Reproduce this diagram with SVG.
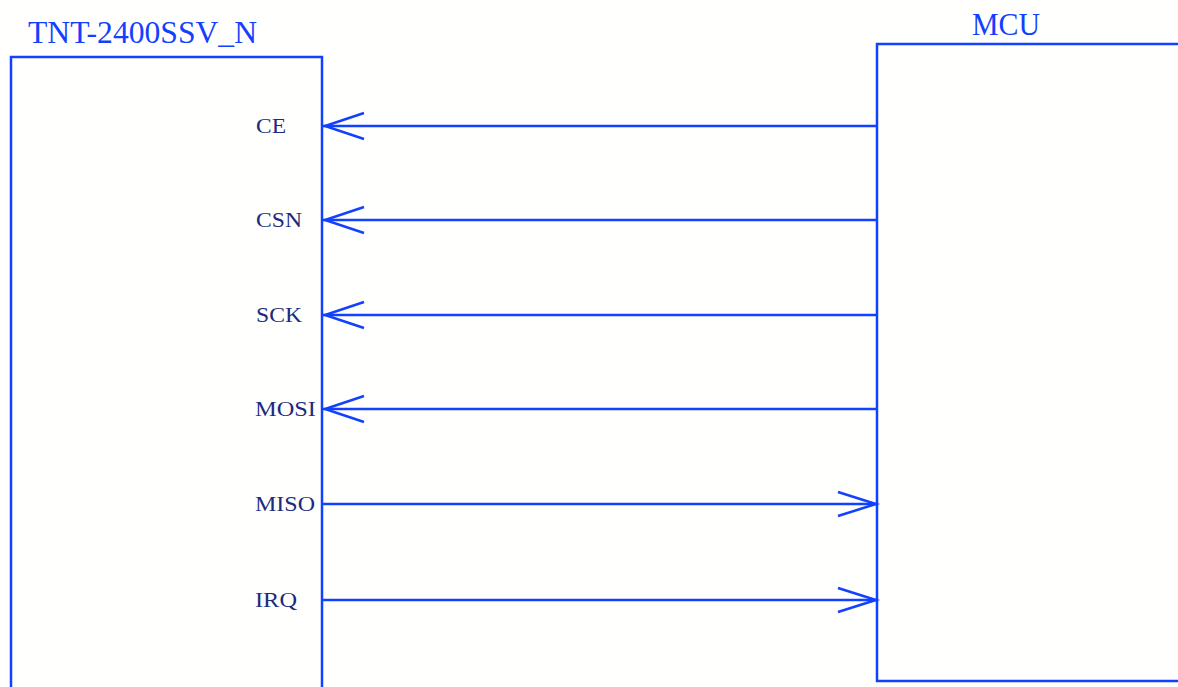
<svg xmlns="http://www.w3.org/2000/svg" width="1178" height="687" viewBox="0 0 1178 687">
<style>
.box{fill:#fffffd;stroke:#1240ff;stroke-width:2.5}
.wire{stroke:#1240ff;stroke-width:2.5;fill:none}
.title{font-family:"Liberation Serif",serif;font-size:32px;fill:#1240ff}
.pin{font-family:"Liberation Serif",serif;font-size:21px;fill:#1c2a80}
</style>
<rect width="1178" height="687" fill="#fffffd"/>
<g id="tnt">
<path class="box" d="M11,690 V57 H322 V690"/>
<text class="title" x="28" y="43" textLength="229" lengthAdjust="spacingAndGlyphs">TNT-2400SSV_N</text>
<text class="pin" x="256" y="133" textLength="30" lengthAdjust="spacingAndGlyphs">CE</text>
<text class="pin" x="256" y="227" textLength="46" lengthAdjust="spacingAndGlyphs">CSN</text>
<text class="pin" x="256" y="322" textLength="46" lengthAdjust="spacingAndGlyphs">SCK</text>
<text class="pin" x="255" y="416" textLength="61" lengthAdjust="spacingAndGlyphs">MOSI</text>
<text class="pin" x="255" y="511" textLength="60" lengthAdjust="spacingAndGlyphs">MISO</text>
<text class="pin" x="255" y="607" textLength="42" lengthAdjust="spacingAndGlyphs">IRQ</text>
</g>
<g id="mcu">
<path class="box" d="M1180,44 H877 V681 H1180"/>
<text class="title" x="972" y="35" textLength="68" lengthAdjust="spacingAndGlyphs">MCU</text>
</g>
<g id="connectors">
<line class="wire" x1="323" y1="126" x2="877" y2="126"/>
<path class="wire" d="M364,113 L325,126 L364,139"/>
<line class="wire" x1="323" y1="220" x2="877" y2="220"/>
<path class="wire" d="M364,207 L325,220 L364,233"/>
<line class="wire" x1="323" y1="315" x2="877" y2="315"/>
<path class="wire" d="M364,302 L325,315 L364,328"/>
<line class="wire" x1="323" y1="409" x2="877" y2="409"/>
<path class="wire" d="M364,396 L325,409 L364,422"/>
<line class="wire" x1="323" y1="504" x2="877" y2="504"/>
<path class="wire" d="M838,492 L876,504 L838,516"/>
<line class="wire" x1="323" y1="600" x2="877" y2="600"/>
<path class="wire" d="M838,588 L876,600 L838,612"/>
</g>
</svg>
